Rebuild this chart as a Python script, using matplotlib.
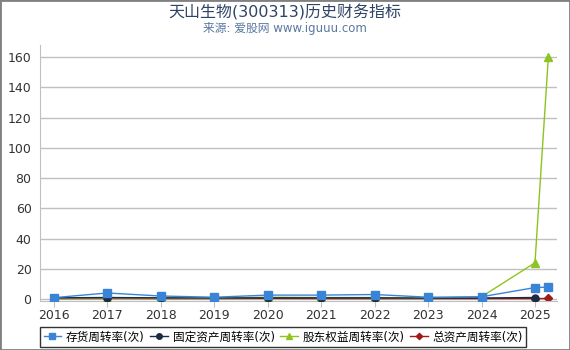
import matplotlib.pyplot as plt

plt.rcParams['font.family'] = ['DejaVu Sans', 'Noto Sans CJK SC']

years = [2016, 2017, 2018, 2019, 2020, 2021, 2022, 2023, 2024, 2025, 2025.25]
tick_years = [2016, 2017, 2018, 2019, 2020, 2021, 2022, 2023, 2024, 2025]

inventory = [0.9, 4.0, 2.0, 1.2, 2.6, 2.6, 3.0, 1.2, 1.5, 7.6, 7.9]
fixed_asset = [0.8, 1.0, 0.8, 0.7, 0.8, 0.8, 0.8, 0.6, 0.7, 1.0, float("nan")]
equity = [0.6, 0.8, 0.7, 0.6, 1.2, 1.0, 1.0, 0.6, 1.5, 24.0, 160.0]
total_asset = [0.3, 0.4, 0.3, 0.3, 0.4, 0.3, 0.3, 0.3, 0.3, 0.3, 0.4]

labels = ["存货周转率(次)", "固定资产周转率(次)", "股东权益周转率(次)", "总资产周转率(次)"]

fig = plt.figure(figsize=(5.7, 3.5), dpi=100)
ax = fig.add_axes([0.070, 0.14, 0.907, 0.731])

ax.plot(years, equity, color="#8fc31f", marker="^", markersize=6, lw=1, label=labels[2], zorder=3)
ax.plot(years, fixed_asset, color="#1c2b44", marker="o", markersize=5, lw=1, label=labels[1], zorder=4)
ax.plot(years, total_asset, color="#a01818", marker="D", markersize=4, lw=1, label=labels[3], zorder=2)
ax.plot(years, inventory, color="#3a84d8", marker="s", markersize=6, lw=1, label=labels[0], zorder=5)

ax.set_xlim(2015.74, 2025.41)
ax.set_ylim(-1.3, 168)
ax.set_xticks(tick_years)
ax.set_yticks(range(0, 161, 20))
ax.grid(axis="y", color="#c0c0c0", lw=1)
ax.set_axisbelow(True)
for s in ["top", "right"]:
    ax.spines[s].set_visible(False)
ax.spines["left"].set_color("#c0c0c0")
ax.spines["bottom"].set_color("#c0c0c0")
ax.tick_params(axis="y", length=0, labelsize=9, colors="#333333", pad=6)
ax.tick_params(axis="x", length=4, labelsize=9, colors="#333333", pad=2, color="#c0c0c0")

handles, labs = ax.get_legend_handles_labels()
order = [3, 1, 0, 2]
leg = fig.legend([handles[i] for i in order], [labs[i] for i in order],
                 loc="center", bbox_to_anchor=(0.497, 0.037), ncol=4, fontsize=8.4,
                 frameon=True, fancybox=False, edgecolor="black", handlelength=1.5,
                 handletextpad=0.4, columnspacing=0.5, borderpad=0.3, markerscale=0.8)
leg.get_frame().set_linewidth(1)

fig.text(0.5, 0.965, "天山生物(300313)历史财务指标", ha="center", va="center",
         fontsize=11.5, color="#2f4366")
fig.text(0.5, 0.918, "来源: 爱股网 www.iguuu.com", ha="center", va="center",
         fontsize=8.5, color="#5a78a0")

fig.patches.append(plt.Rectangle((0, 0), 1, 1, transform=fig.transFigure,
                                 fill=False, edgecolor="#808080", lw=2))

fig.savefig("out.png", dpi=100)
